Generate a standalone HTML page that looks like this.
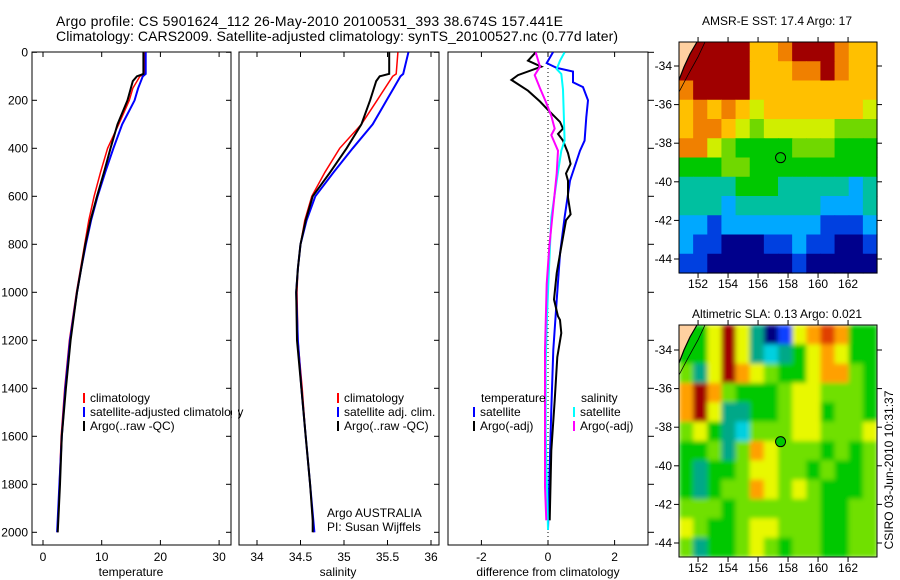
<!DOCTYPE html>
<html><head><meta charset="utf-8"><style>
body{margin:0;background:#fff;}
svg{display:block;font-family:"Liberation Sans",sans-serif;}
text{fill:#000;}
</style></head><body>
<svg id="c" width="900" height="580" viewBox="0 0 900 580">
<defs>
<filter id="blur" x="0" y="0" width="1" height="1"><feGaussianBlur stdDeviation="2.5" edgeMode="duplicate"/></filter>
<clipPath id="slaclip"><rect x="679" y="325" width="198" height="232"/></clipPath>
</defs>
<text x="56" y="26" font-size="14" textLength="507">Argo profile: CS 5901624_112 26-May-2010 20100531_393 38.674S 157.441E</text>
<text x="56" y="41" font-size="14" textLength="562">Climatology: CARS2009. Satellite-adjusted climatology: synTS_20100527.nc (0.77d later)</text>
<text x="777" y="25" font-size="12" text-anchor="middle">AMSR-E SST: 17.4 Argo: 17</text>
<text x="777" y="318" font-size="12" text-anchor="middle">Altimetric SLA: 0.13 Argo: 0.021</text>
<text transform="translate(893,470) rotate(-90)" font-size="12" text-anchor="middle">CSIRO 03-Jun-2010 10:31:37</text>
<g id="g"></g>
</svg>
<script>
// ---- data ----
const tDepth=[0,90,100,150,200,300,400,500,600,700,800,900,1000,1200,1400,1600,1800,2000];
const tClim=[17.3,17.3,16.5,15.3,14.7,12.9,11.0,9.8,8.7,7.8,7.1,6.4,5.7,4.5,3.7,3.1,2.8,2.5];
const tSat=[17.5,17.5,17.0,16.2,15.6,13.5,12.0,10.6,9.3,8.2,7.3,6.5,5.8,4.6,3.8,3.2,2.8,2.4];
const tArgoDepth=[0,90,100,120,200,300,400,500,600,700,800,900,1000,1200,1400,1600,1800,1950,2000];
const tArgo=[17.1,17.1,16.0,15.3,14.4,12.7,11.5,10.4,9.2,8.1,7.2,6.5,5.8,4.7,3.9,3.2,2.9,2.6,2.5];
const sClim=[35.62,35.6,35.56,35.47,35.38,35.2,34.95,34.78,34.63,34.55,34.5,34.47,34.46,34.47,34.52,34.56,34.61,34.65];
const sSat=[35.74,35.68,35.65,35.57,35.49,35.33,35.1,34.88,34.67,34.57,34.5,34.47,34.45,34.47,34.51,34.56,34.61,34.66];
const sArgo=[35.52,35.52,35.41,35.37,35.3,35.2,35.03,34.84,34.64,34.56,34.5,34.47,34.45,34.46,34.51,34.56,34.61,34.64,34.64];
const dTSatDepth=[0,45,65,80,125,145,200,270,368,410,535,688,840,1033,1240,1490,1727,1990];
const dTSat=[0.15,-0.04,0.26,0.75,0.75,1.05,1.2,1.15,1.1,0.96,0.66,0.5,0.36,0.26,0.16,0.1,0.05,0];
const dTArgoDepth=[0,35,60,95,115,160,205,240,290,318,340,368,420,465,505,535,605,675,700,810,920,1030,1100,1115,1170,1270,1450,1660,1950];
const dTArgo=[-0.37,-0.6,-0.2,-0.9,-1.1,-0.6,-0.24,0,0.36,0.45,0.3,0.45,0.6,0.68,0.54,0.6,0.6,0.68,0.54,0.4,0.26,0.18,0.3,0.36,0.4,0.28,0.2,0.1,0.05];
const dSSatDepth=[0,35,70,90,155,368,410,535,688,900,1100,1300,1580,1990];
const dSSat=[0.5,0.36,0.26,0.4,0.45,0.5,0.4,0.26,0.1,0.03,-0.03,-0.07,-0.07,0];
const dSArgoDepth=[0,60,95,150,205,265,318,345,410,505,645,810,965,1240,1580,1810,1950];
const dSArgo=[-0.37,-0.24,-0.4,-0.24,-0.07,0.1,0.2,0.1,0.3,0.26,0.16,0.04,-0.04,-0.09,-0.09,-0.09,-0.05];
const depthTicks=[0,200,400,600,800,1000,1200,1400,1600,1800,2000];
const tTicks=[0,10,20,30];
const sTicks=[34,34.5,35,35.5,36];
const dTicks=[-2,0,2];
const lonTicks=[152,154,156,158,160,162];
const latTicks=[34,36,38,40,42,44];
const sstGrid=[
[9,9,9,9,9,7,7,8,9,9,9,8,7,7],
[9,9,9,9,9,7,7,7,8,8,9,8,7,7],
[8,9,9,9,9,7,7,7,7,7,7,7,7,7],
[7,8,7,8,7,6,7,7,7,7,7,7,7,6],
[7,8,8,7,6,5,6,6,6,6,6,5,5,5],
[8,8,6,5,4,4,4,4,5,5,5,4,4,4],
[4,4,4,5,5,4,4,4,4,4,4,4,4,4],
[3,3,3,3,4,4,4,3,3,3,3,3,2,3],
[3,3,3,2,3,3,3,3,3,3,2,2,2,3],
[2,2,1,2,2,2,2,2,2,2,1,1,1,2],
[2,1,1,0,0,0,1,1,2,1,1,0,0,1],
[1,1,0,0,0,0,0,0,1,0,0,0,0,0]];
const slaGrid=[
[4,4,6,9,6,3,0,1,6,7,8,7,4,4],
[4,4,6,9,6,3,2,3,4,6,7,6,4,4],
[5,3,6,9,7,6,5,4,4,6,7,7,5,4],
[7,9,7,5,4,4,4,5,6,6,5,5,5,4],
[7,9,6,3,3,4,4,5,6,6,4,5,5,4],
[5,6,4,3,2,5,5,5,6,6,5,5,5,6],
[4,4,5,3,5,7,6,5,5,5,4,5,4,5],
[4,3,4,4,5,6,6,5,5,4,5,4,4,5],
[4,3,4,5,5,7,6,5,6,5,4,4,4,5],
[5,5,5,4,5,5,5,5,5,5,4,4,5,5],
[6,5,4,4,5,6,6,5,5,5,4,4,5,5],
[5,3,4,4,5,6,5,4,5,5,4,4,5,5]];
const sstColors=['#00008c','#0040e0','#00a8ff','#00c0a0','#00c800','#70d800','#d0ee00','#ffc000','#f08000','#a00000'];
const slaColors=['#000080','#1040ff','#00d0e0','#00a888','#00c800','#70e000','#e8f800','#ffa000','#e04000','#a00000'];
const argoLon=157.44, argoLat=38.67;

// ---- helpers ----
const NS='http://www.w3.org/2000/svg';
const G=document.getElementById('g');
function mk(tag,attrs,parent){const e=document.createElementNS(NS,tag);for(const k in attrs)e.setAttribute(k,attrs[k]);(parent||G).appendChild(e);return e;}
const yD=d=>52.3+d*0.24;
const xT=v=>43+v*5.87;
const xS=v=>257+(v-34)*87;
const xDf=v=>548+v*33.3;

function panel(x0,x1,name){
  const r=mk('rect',{x:x0,y:52,width:x1-x0,height:493,fill:'none',stroke:'#000','stroke-width':1});
  
  
}
function line(xs,ds,fx,color,w,name){
  const pts=xs.map((v,i)=>fx(v).toFixed(1)+','+yD(ds[i]).toFixed(1)).join(' ');
  const p=mk('polyline',{points:pts,fill:'none',stroke:color,'stroke-width':w,'stroke-linejoin':'miter'});
  
  
}
function txt(x,y,s,anchor,name){
  const t=mk('text',{x:x,y:y,'font-size':12,'text-anchor':anchor||'start'});
  t.textContent=s;
  
  
  return t;
}
panel(32,231,'temperature-panel');
panel(239,439,'salinity-panel');
panel(448,648,'difference-panel');
depthTicks.forEach(d=>{
  const y=yD(d);
  txt(28,y+4,String(d),'end','depth-tick-label');
  mk('line',{x1:32,x2:37,y1:y,y2:y,stroke:'#000'});
  mk('line',{x1:226,x2:231,y1:y,y2:y,stroke:'#000'});
  mk('line',{x1:434,x2:439,y1:y,y2:y,stroke:'#000'});
  mk('line',{x1:648,x2:654,y1:y,y2:y,stroke:'#000'});
});
function xticks(ticks,fx,name){
  ticks.forEach(v=>{const x=fx(v);
    mk('line',{x1:x,x2:x,y1:52,y2:57,stroke:'#000'});
    mk('line',{x1:x,x2:x,y1:540,y2:545,stroke:'#000'});
    txt(x,561,String(v),'middle',name);
  });
}
xticks(tTicks,xT,'temperature-tick-label');
xticks(sTicks,xS,'salinity-tick-label');
xticks(dTicks,xDf,'difference-tick-label');
txt(131,576,'temperature','middle','temperature-axis-title');
txt(338,576,'salinity','middle','salinity-axis-title');
txt(548,576,'difference from climatology','middle','difference-axis-title');
const z=mk('line',{x1:xDf(0),x2:xDf(0),y1:60,y2:540,stroke:'#000','stroke-dasharray':'1,3'});


line(tClim,tDepth,xT,'#f00',1.5,'temperature-climatology-line');
line(tSat,tDepth,xT,'#00f',2,'temperature-satellite-line');
line(tArgo,tArgoDepth,xT,'#000',2,'temperature-argo-line');
line(sClim,tDepth,xS,'#f00',1.5,'salinity-climatology-line');
line(sSat,tDepth,xS,'#00f',2,'salinity-satellite-line');
line(sArgo,tArgoDepth,xS,'#000',2,'salinity-argo-line');
line(dTSat,dTSatDepth,xDf,'#00f',2,'temp-diff-satellite-line');
line(dTArgo,dTArgoDepth,xDf,'#000',2,'temp-diff-argo-line');
line(dSSat,dSSatDepth,xDf,'#0ff',2,'sal-diff-satellite-line');
line(dSArgo,dSArgoDepth,xDf,'#f0f',2,'sal-diff-argo-line');
function leg(x,y,color,label,name){
  mk('rect',{x:x,y:y-9,width:2,height:10,fill:color});
  txt(x+7,y,label,'start',name);
}
leg(83,402,'#f00','climatology','legend-temp-climatology');
leg(83,416,'#00f','satellite-adjusted climatology','legend-temp-satellite');
leg(83,430,'#000','Argo(..raw -QC)','legend-temp-argo');
leg(337,402,'#f00','climatology','legend-sal-climatology');
leg(337,416,'#00f','satellite adj. clim.','legend-sal-satellite');
leg(337,430,'#000','Argo(..raw -QC)','legend-sal-argo');
mk('rect',{x:232,y:400,width:6,height:20,fill:'#fff'});
txt(327,517,'Argo AUSTRALIA','start','argo-australia-label');
txt(327,531,'PI: Susan Wijffels','start','pi-label');
txt(481,402,'temperature','start','legend-temperature-header');
leg(473,416,'#00f','satellite','legend-tdiff-satellite');
leg(473,430,'#000','Argo(-adj)','legend-tdiff-argo');
txt(581,402,'salinity','start','legend-salinity-header');
leg(573,416,'#0ff','satellite','legend-sdiff-satellite');
leg(573,430,'#f0f','Argo(-adj)','legend-sdiff-argo');

const lonX=l=>679+(l-150.73)*15;
function map(top,bottom,lat34,grid,colors,name,smooth){
  const g=mk('g',{});
  
  
  const cg=mk('g',smooth?{'clip-path':'url(#slaclip)'}:{},g);
  const inner=mk('g',smooth?{filter:'url(#blur)'}:{},cg);
  const rows=grid.length, cols=grid[0].length;
  const w=198/cols, h=(bottom-top)/rows;
  grid.forEach((row,r)=>row.forEach((v,c)=>{
    const cell=mk('rect',{x:(679+c*w).toFixed(2),y:(top+r*h).toFixed(2),width:(w+0.6).toFixed(2),height:(h+0.6).toFixed(2),fill:colors[v]},inner);
    
    
  }));
  const latY=l=>lat34+(l-34)*19.3;
  mk('polygon',{points:`679,${top} 697,${top} 690,${top+12} 684,${top+25} 679,${top+38}`,fill:'#ffd0a0'},g);
  mk('polyline',{points:`679,${top+38} 684,${top+25} 690,${top+12} 697,${top}`,fill:'none',stroke:'#000','stroke-width':1.2},g);
  mk('polyline',{points:`679,${top+50} 688,${top+33} 698,${top+15} 705,${top}`,fill:'none',stroke:'#000','stroke-width':0.8},g);
  mk('rect',{x:679,y:top,width:198,height:bottom-top,fill:'none',stroke:'#000'},g);
  lonTicks.forEach(l=>{const x=lonX(l);
    mk('line',{x1:x,x2:x,y1:top-5,y2:top,stroke:'#000'},g);
    mk('line',{x1:x,x2:x,y1:bottom,y2:bottom+5,stroke:'#000'},g);
    txt(x,bottom+15,String(l),'middle','longitude-tick-label');
  });
  latTicks.forEach(l=>{const y=latY(l);
    mk('line',{x1:674,x2:679,y1:y,y2:y,stroke:'#000'},g);
    mk('line',{x1:877,x2:882,y1:y,y2:y,stroke:'#000'},g);
    txt(672,y+4,String(-l),'end','latitude-tick-label');
  });
  const m=mk('circle',{cx:lonX(argoLon+0.06),cy:latY(argoLat+0.08),r:5,fill:smooth?'#00c800':'none',stroke:'#000'},g);
  
  
}
map(42,273,66,sstGrid,sstColors,'sst-map',false);
map(325,557,350,slaGrid,slaColors,'sla-map',true);
</script>
</body></html>
